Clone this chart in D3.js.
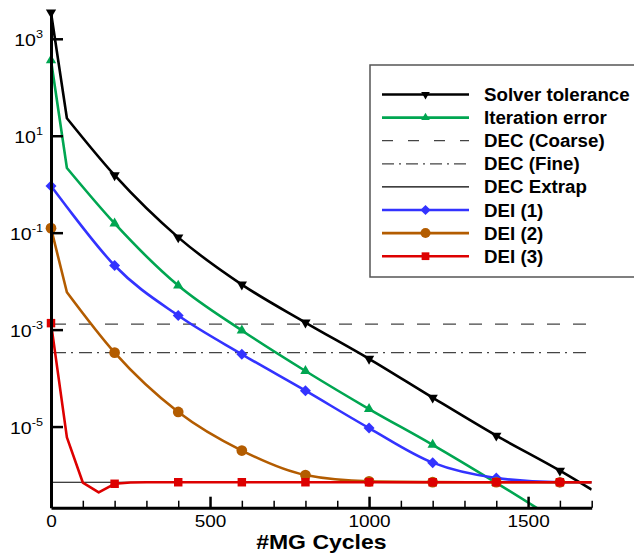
<!DOCTYPE html>
<html>
<head>
<meta charset="utf-8">
<script src="https://cdn.jsdelivr.net/npm/d3@7"></script>
<style>
  body { margin: 0; background: #fff; }
  svg { display: block; }
  text { font-family: "Liberation Sans", Arial, Helvetica, sans-serif; fill: #000; }
</style>
</head>
<body>
<svg id="chart" width="634" height="559"></svg>
<script>
// ---- data: residual histories vs. multigrid cycles ----
const cyclesMain = [0, 50, 200, 400, 600, 800, 1000, 1200, 1400, 1600, 1700];
const cyclesIter = [0, 50, 200, 400, 600, 800, 1000, 1200, 1400, 1600];
const cyclesDEI3 = [0, 50, 100, 150, 200, 250, 300, 400, 600, 800, 1000, 1200, 1400, 1600, 1700];
const markerCycles = [0, 200, 400, 600, 800, 1000, 1200, 1400, 1600];

const solverTolerance = [3500, 23, 1.53, 0.08, 8.5e-3, 1.4e-3, 2.5e-4, 3.95e-5, 6.5e-6, 1.23e-6, 5.0e-7];
const iterationError  = [360, 2.16, 0.155, 8.1e-3, 9.6e-4, 1.4e-4, 2.3e-5, 4.2e-6, 6.9e-7, 1.05e-7];
const dei1 = [0.92, 0.338, 0.021, 1.95e-3, 3.1e-4, 5.5e-5, 9.3e-6, 1.8e-6, 8.7e-7, 7.1e-7, 7.1e-7];
const dei2 = [0.124, 5.9e-3, 3.35e-4, 2.0e-5, 3.2e-6, 1.0e-6, 7.4e-7, 7.15e-7, 7.1e-7, 7.1e-7, 7.1e-7];
const dei3 = [1.36e-3, 6.0e-6, 7.0e-7, 4.4e-7, 6.6e-7, 7.0e-7, 7.1e-7, 7.1e-7, 7.1e-7, 7.1e-7, 7.1e-7, 7.1e-7, 7.1e-7, 7.1e-7, 7.1e-7];

const decCoarse = 1.3e-3;
const decFine = 3.35e-4;
const decExtrap = 7.1e-7;

const xTickValues = [0, 500, 1000, 1500];
const xMinorTicks = d3.range(0, 1701, 100);
const yTickExponents = [3, 1, -1, -3, -5];

// ---- layout ----
const svg = d3.select("#chart");
const x = d3.scaleLinear().domain([0, 1700]).range([51, 591.7]);
const y = d3.scaleLog().domain([Math.pow(10, -6.674), Math.pow(10, 3.6)]).range([507.7, 9.7]);
const [x0, x1] = x.range();
const [yb, yt] = y.range();

svg.append("defs").append("clipPath").attr("id", "plotClip")
  .append("rect").attr("x", x0).attr("y", yt).attr("width", x1 - x0).attr("height", yb - yt);

// ---- symbols ----
const sym = {
  down:    d3.symbol().type(d3.symbolTriangle).size(46),
  up:      d3.symbol().type(d3.symbolTriangle).size(46),
  diamond: d3.symbol().type(d3.symbolSquare).size(60),
  circle:  d3.symbol().type(d3.symbolCircle).size(90),
  square:  d3.symbol().type(d3.symbolSquare).size(72)
};
const symLegend = {
  down:    d3.symbol().type(d3.symbolTriangle).size(32),
  up:      d3.symbol().type(d3.symbolTriangle).size(32),
  diamond: d3.symbol().type(d3.symbolSquare).size(52),
  circle:  d3.symbol().type(d3.symbolCircle).size(78),
  square:  d3.symbol().type(d3.symbolSquare).size(60)
};
const symRotate = { down: 180, up: 0, diamond: 45, circle: 0, square: 0 };

const series = [
  { name: "Solver tolerance", xs: cyclesMain, ys: solverTolerance, color: "#000000", marker: "down",    kink: true,  curve: "monotone" },
  { name: "Iteration error",  xs: cyclesIter, ys: iterationError,  color: "#00a651", marker: "up",      kink: true,  curve: "monotone" },
  { name: "DEI (1)",          xs: cyclesMain, ys: dei1,            color: "#3333ff", marker: "diamond", kink: false, curve: "monotone" },
  { name: "DEI (2)",          xs: cyclesMain, ys: dei2,            color: "#b35c00", marker: "circle",  kink: true,  curve: "monotone" },
  { name: "DEI (3)",          xs: cyclesDEI3, ys: dei3,            color: "#dd0000", marker: "square",  kink: false, curve: "linear" }
];

const refLines = [
  { name: "DEC (Coarse)", value: decCoarse, color: "#444", width: 1.3, dash: "13,13" },
  { name: "DEC (Fine)",   value: decFine,   color: "#444", width: 1.3, dash: "13,5,2,6" },
  { name: "DEC Extrap",   value: decExtrap, color: "#000", width: 1.1, dash: null }
];

// ---- reference levels ----
const plot = svg.append("g");
refLines.forEach(r => {
  plot.append("line")
    .attr("x1", x0 + 2).attr("x2", x1 - 1)
    .attr("y1", y(r.value)).attr("y2", y(r.value))
    .attr("stroke", r.color).attr("stroke-width", r.width)
    .attr("stroke-dasharray", r.dash);
});

// ---- convergence curves ----
function pathFor(s) {
  const pts = s.xs.map((c, i) => [x(c), y(s.ys[i])]);
  if (s.curve === "linear") return d3.line()(pts);
  const gen = d3.line().curve(d3.curveMonotoneX);
  if (!s.kink) return gen(pts);
  const rest = gen(pts.slice(1));
  return "M" + pts[0][0] + "," + pts[0][1] + "L" + rest.slice(1);
}

series.forEach(s => {
  const g = plot.append("g");
  g.append("path")
    .attr("d", pathFor(s))
    .attr("fill", "none")
    .attr("stroke", s.color)
    .attr("stroke-width", 2.6)
    .attr("stroke-linejoin", "round")
    .attr("clip-path", "url(#plotClip)");
  const marks = s.xs.map((c, i) => ({ c, v: s.ys[i] }))
    .filter(d => markerCycles.includes(d.c) && d.v >= y.domain()[0]);
  g.selectAll("path.m").data(marks).join("path")
    .attr("class", "m")
    .attr("d", sym[s.marker]())
    .attr("transform", d => `translate(${x(d.c)},${y(d.v)}) rotate(${symRotate[s.marker]})`)
    .attr("fill", s.color);
});

// ---- axes ----
const textScale = 1.15;

const xAxisMinor = d3.axisBottom(x).tickValues(xMinorTicks.filter(v => !xTickValues.includes(v)))
  .tickSizeInner(-7).tickSizeOuter(0).tickFormat("");
svg.append("g").attr("transform", `translate(0,${yb})`).call(xAxisMinor)
  .call(g => g.select(".domain").remove())
  .call(g => g.selectAll(".tick line").attr("stroke", "#000").attr("stroke-width", 1.5));

const xAxis = d3.axisBottom(x).tickValues(xTickValues).tickSizeInner(-11).tickSizeOuter(0)
  .tickFormat(d3.format("d"));
svg.append("g").attr("transform", `translate(0,${yb})`).call(xAxis)
  .call(g => g.select(".domain").attr("stroke", "#000").attr("stroke-width", 3))
  .call(g => g.selectAll(".tick line").attr("stroke", "#000").attr("stroke-width", 2.5))
  .call(g => g.selectAll(".tick text")
    .attr("y", 19.3).attr("dy", 0)
    .attr("font-size", 16.5).attr("fill", "#000")
    .attr("transform", `scale(${textScale},1)`));

const yAxis = d3.axisLeft(y).tickValues(yTickExponents.map(e => Math.pow(10, e)))
  .tickSizeInner(-12).tickSizeOuter(0).tickFormat("");
svg.append("g").attr("transform", `translate(${x0},0)`).call(yAxis)
  .call(g => g.select(".domain").attr("stroke", "#000").attr("stroke-width", 3))
  .call(g => g.selectAll(".tick line").attr("stroke", "#000").attr("stroke-width", 2.5))
  .call(g => g.selectAll(".tick text").each(function (d) {
    const e = Math.round(Math.log10(d));
    const t = d3.select(this).text(null)
      .attr("x", -7).attr("y", 7).attr("dy", 0)
      .attr("font-size", 17).attr("fill", "#000")
      .attr("transform", `scale(${textScale},1)`);
    t.append("tspan").text("10");
    t.append("tspan").attr("dy", -8).attr("font-size", 11).text(String(e));
  }));

svg.append("text")
  .attr("transform", `translate(${(x0 + x1) / 2},549) scale(${textScale},1)`)
  .attr("text-anchor", "middle")
  .attr("font-size", 20).attr("font-weight", "bold")
  .text("#MG Cycles");

// ---- legend ----
const legendItems = [
  { name: "Solver tolerance", color: "#000000", width: 2.6, marker: "down" },
  { name: "Iteration error",  color: "#00a651", width: 2.6, marker: "up" },
  { name: "DEC (Coarse)",     color: "#444",    width: 1.3, dash: "11,15" },
  { name: "DEC (Fine)",       color: "#444",    width: 1.3, dash: "12,5,2,5" },
  { name: "DEC Extrap",       color: "#000",    width: 1.1 },
  { name: "DEI (1)",          color: "#3333ff", width: 2.6, marker: "diamond" },
  { name: "DEI (2)",          color: "#b35c00", width: 2.6, marker: "circle" },
  { name: "DEI (3)",          color: "#dd0000", width: 2.6, marker: "square" }
];

const legend = svg.append("g");
legend.append("rect")
  .attr("x", 370).attr("y", 65).attr("width", 280).attr("height", 212)
  .attr("fill", "#fff").attr("stroke", "#555").attr("stroke-width", 1.5);

legendItems.forEach((it, i) => {
  const cy = 94.5 + i * 23.1;
  legend.append("line")
    .attr("x1", 382).attr("x2", 469).attr("y1", cy).attr("y2", cy)
    .attr("stroke", it.color).attr("stroke-width", it.width)
    .attr("stroke-dasharray", it.dash || null);
  if (it.marker) {
    legend.append("path")
      .attr("d", symLegend[it.marker]())
      .attr("transform", `translate(425.5,${cy}) rotate(${symRotate[it.marker]})`)
      .attr("fill", it.color);
  }
  legend.append("text")
    .attr("transform", `translate(484,${cy + 6.5}) scale(1.04,1)`)
    .attr("font-size", 18).attr("font-weight", "bold")
    .text(it.name);
});
</script>
</body>
</html>
